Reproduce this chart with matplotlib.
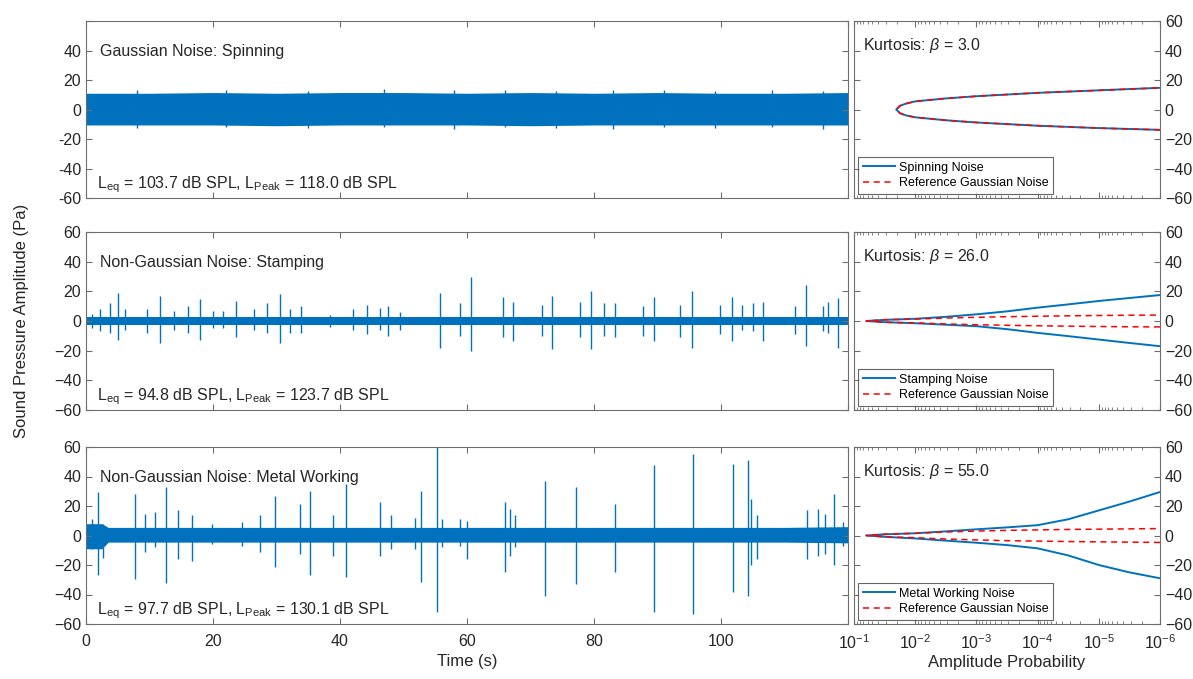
import matplotlib.pyplot as plt
import numpy as np

plt.rcParams['font.family'] = ['Liberation Sans', 'DejaVu Sans']
plt.rcParams['mathtext.fontset'] = 'custom'
plt.rcParams['mathtext.rm'] = 'Liberation Sans'
plt.rcParams['mathtext.it'] = 'Liberation Sans:italic'

blue = '#0072BD'
edge = '#6e6e6e'
txt = '#262626'

# ---- time signals (noise band envelope + spikes) ----
env_t = [0, 10, 20, 30, 40, 50, 60, 70, 80, 90, 100, 110, 120]

spin_hi = [11, 11, 11.5, 11, 11.5, 11.5, 11, 11.5, 11, 11.5, 11, 11, 11.5]
spin_lo = [-10.5, -10.5, -10.5, -11, -10.5, -10.5, -10.5, -11, -10.5, -10.5, -10.5, -10.5, -10.5]
spin_spk_t = [8, 22, 35, 47, 58, 66, 74, 83, 91, 99, 108, 116]
spin_spk_hi = [13, 13, 12.5, 14, 13, 13.5, 12.5, 13, 13.5, 12.5, 13, 12.5]
spin_spk_lo = [-12.5, -12, -12.5, -12, -13, -12, -12.5, -13, -12, -12.5, -12, -13]

stamp_hi = [3, 3, 3, 3, 3, 3, 3, 3, 3, 3, 3, 3, 3]
stamp_lo = [-2.5, -2.5, -2.5, -2.5, -2.5, -2.5, -2.5, -2.5, -2.5, -2.5, -2.5, -2.5, -2.5]
stamp_spk_t = [0.9, 2.2, 3.8, 5.1, 6.2, 9.6, 11.7, 13.8, 16.1, 17.9, 20.0, 21.6, 23.7,
               26.4, 28.5, 30.6, 32.1, 33.9, 38.4, 42.1, 44.2, 46.3, 47.6, 49.5,
               55.7, 58.9, 60.6, 65.7, 67.3, 71.8, 73.4, 77.8, 79.5, 81.5, 83.3,
               87.7, 89.4, 93.5, 95.4, 99.8, 101.7, 103.3, 105.1, 106.6, 111.6,
               113.4, 116.1, 116.8, 118.4]
stamp_spk_hi = [5, 8, 12, 19, 8, 8, 17, 7, 10, 14.5, 7, 7, 13.5,
                8, 12, 18.3, 8, 10, 4, 8, 11, 9, 10, 6,
                18.8, 12, 30, 16.5, 13, 11, 17, 13, 20, 12, 12,
                10, 16.5, 11, 20, 11, 16, 11, 12, 13, 10,
                24, 10, 13, 15.4]
stamp_spk_lo = [-5, -7, -8, -13, -6, -8, -14.5, -6, -8, -13, -5, -5, -11,
                -6, -8, -15, -8, -8, -4, -6, -9, -6, -10, -6,
                -18, -10, -20, -11, -13.6, -10, -19, -11, -19, -10, -11,
                -10, -13.6, -11, -18, -9, -13.6, -6, -7, -13.6, -9,
                -17, -7, -8, -18]

metal_env_t = [0, 2.5, 3.5, 10, 20, 30, 40, 50, 60, 70, 80, 90, 100, 110, 120]
metal_hi = [8, 8, 5.5, 5.5, 5.5, 5.5, 5.5, 5.5, 5.5, 5.5, 5.5, 5.5, 5.5, 5.5, 6]
metal_lo = [-9, -9, -4.5, -4.5, -4.5, -4.5, -4.5, -4.5, -4.5, -4.5, -4.5, -4.5, -4.5, -4.5, -5]
metal_spk_t = [0.9, 1.9, 2.7, 7.7, 9.3, 10.9, 12.6, 14.5, 16.7, 19.8, 24.5, 27.4,
               29.8, 33.7, 35.3, 38.9, 41.0, 46.3, 48.1, 51.8, 52.7, 55.2, 56.0,
               58.9, 60.0, 66.0, 66.8, 67.6, 72.3, 77.2, 83.3, 89.4, 95.6, 101.9,
               104.3, 104.8, 105.6, 113.5, 115.3, 116.4, 117.8, 119.2]
metal_spk_hi = [11, 29.5, 8, 28, 14.7, 16, 33, 17, 13.6, 8, 9, 13.6,
                27, 21.5, 30, 13.6, 35, 22.6, 13.6, 12, 30.5, 61, 11,
                11, 10, 22.6, 18, 13.6, 37, 33, 21.5, 47.5, 55.4, 48.6,
                51, 25, 13.6, 17, 18, 14.7, 28, 9]
metal_spk_lo = [-9, -27, -15, -29.6, -11, -8, -32, -16, -17, -6, -7, -11,
                -21.5, -12.4, -27, -13.6, -28.3, -13.6, -9, -9, -31.7, -52, -8,
                -7, -16, -25, -13.6, -8, -40.7, -33, -25, -52, -53, -38.5,
                -40.7, -20, -16, -16, -13.6, -12.4, -20, -7]

# ---- amplitude probability curves (log10 of probability, amplitude in Pa) ----
spin_logp = [-1.69, -1.75, -1.85, -2.0, -2.5, -3.0, -4.0, -5.0, -6.0]
spin_up = [0, 2.5, 4.0, 5.5, 7.5, 9.0, 11.3, 13.0, 14.7]
spin_dn = [0, -2.5, -4.0, -5.3, -7.3, -8.8, -11.0, -12.6, -13.8]

logp = [-1.2, -1.5, -2.0, -2.5, -3.0, -3.5, -4.0, -4.5, -5.0, -5.5, -6.0]
stamp_up = [0, 0.8, 1.5, 2.8, 4.5, 6.5, 9.0, 11.2, 13.5, 15.5, 17.5]
stamp_dn = [0, -0.8, -1.5, -2.5, -3.5, -5.5, -8.0, -10.2, -12.5, -14.8, -17.0]
stamp_ref = [0, 0.8, 1.3, 2.0, 2.5, 2.9, 3.2, 3.5, 3.7, 3.9, 4.0]
metal_up = [0, 0.8, 1.5, 2.8, 4.2, 5.5, 7.0, 11.0, 17.0, 23.0, 29.5]
metal_dn = [0, -0.9, -2.0, -3.5, -4.9, -6.5, -8.7, -13.5, -20.0, -25.0, -29.0]
metal_ref = [0, 0.9, 1.5, 2.4, 3.0, 3.5, 3.8, 4.1, 4.3, 4.5, 4.7]

titles = ['Gaussian Noise: Spinning', 'Non-Gaussian Noise: Stamping',
          'Non-Gaussian Noise: Metal Working']
levels = [r'$\mathregular{L_{eq}}$ = 103.7 dB SPL, $\mathregular{L_{Peak}}$ = 118.0 dB SPL',
          r'$\mathregular{L_{eq}}$ = 94.8 dB SPL, $\mathregular{L_{Peak}}$ = 123.7 dB SPL',
          r'$\mathregular{L_{eq}}$ = 97.7 dB SPL, $\mathregular{L_{Peak}}$ = 130.1 dB SPL']
kurt = ['3.0', '26.0', '55.0']
names = ['Spinning Noise', 'Stamping Noise', 'Metal Working Noise']

signals = [(env_t, spin_hi, spin_lo, spin_spk_t, spin_spk_hi, spin_spk_lo),
           (env_t, stamp_hi, stamp_lo, stamp_spk_t, stamp_spk_hi, stamp_spk_lo),
           (metal_env_t, metal_hi, metal_lo, metal_spk_t, metal_spk_hi, metal_spk_lo)]
curves = [(spin_logp, spin_up, spin_dn, spin_up, spin_dn),
          (logp, stamp_up, stamp_dn, stamp_ref, [-v for v in stamp_ref]),
          (logp, metal_up, metal_dn, metal_ref, [-v for v in metal_ref])]

fig = plt.figure(figsize=(11.93, 6.79), dpi=100)
W, H = 1193.0, 679.0
rows = [(21, 198), (232, 410), (447, 624)]
yt = [-60, -40, -20, 0, 20, 40, 60]


def style(ax):
    for s in ax.spines.values():
        s.set_color(edge)
        s.set_linewidth(0.8)
    ax.tick_params(direction='in', top=True, right=True, length=4, color=edge,
                   labelsize=11.5, labelcolor=txt)
    ax.tick_params(which='minor', direction='in', top=True, length=2, color=edge)


for i, (y0, y1) in enumerate(rows):
    axl = fig.add_axes([86 / W, 1 - y1 / H, (848 - 86) / W, (y1 - y0) / H])
    axr = fig.add_axes([854 / W, 1 - y1 / H, (1160 - 854) / W, (y1 - y0) / H])

    et, hi, lo, st, sh, sl = signals[i]
    axl.fill_between(et, lo, hi, color=blue, lw=0)
    axl.vlines(st, sl, sh, color=blue, lw=1.0)
    axl.set_xlim(0, 120)
    axl.set_ylim(-60, 60)
    axl.set_xticks([0, 20, 40, 60, 80, 100, 120])
    axl.set_yticks(yt)
    style(axl)
    if i == 0:
        axl.set_yticklabels([str(v) for v in yt[:-1]] + [''])
    if i == 2:
        axl.set_xticklabels(['0', '20', '40', '60', '80', '100', ''])
        axl.tick_params(axis='x', pad=7)
        axl.set_xlabel('Time (s)', fontsize=12, color=txt, labelpad=4)
    else:
        axl.set_xticklabels([])
    axl.text(0.018, 0.83, titles[i], transform=axl.transAxes, fontsize=11.5,
             color=txt, va='center')
    axl.text(0.015, 0.056, levels[i], transform=axl.transAxes, fontsize=11.5,
             color=txt, va='baseline')

    lp, up, dn, rup, rdn = curves[i]
    p = 10.0 ** np.array(lp)
    xx = np.concatenate([p[::-1], p])
    axr.plot(xx, np.concatenate([dn[::-1], up]), color=blue, lw=1.4, label=names[i])
    axr.plot(xx, np.concatenate([rdn[::-1], rup]), color='red', ls='--', lw=1.1,
             dashes=(4, 3), label='Reference Gaussian Noise')
    axr.set_xscale('log')
    axr.set_xlim(1e-1, 1e-6)
    axr.set_ylim(-60, 60)
    axr.set_yticks(yt)
    axr.set_xticks([1e-1, 1e-2, 1e-3, 1e-4, 1e-5, 1e-6])
    style(axr)
    axr.tick_params(labelleft=False, labelright=True)
    if i == 2:
        axr.tick_params(axis='x', pad=7)
        axr.set_xlabel('Amplitude Probability', fontsize=12, color=txt, labelpad=2)
    else:
        axr.set_xticklabels([])
    axr.text(0.03, 0.86, r'Kurtosis: $\beta$ = ' + kurt[i], transform=axr.transAxes,
             fontsize=11.5, color=txt, va='center')
    leg = axr.legend(loc='lower left', fontsize=9, frameon=True, fancybox=False,
                     borderaxespad=0.35, handlelength=2.6, handletextpad=0.3,
                     borderpad=0.35, labelspacing=0.3)
    leg.get_frame().set_edgecolor('#404040')
    leg.get_frame().set_linewidth(0.8)

fig.text(22 / W, 1 - 321 / H, 'Sound Pressure Amplitude (Pa)', rotation=90,
         fontsize=12, color=txt, ha='center', va='center')

fig.savefig('out.png', dpi=100)
